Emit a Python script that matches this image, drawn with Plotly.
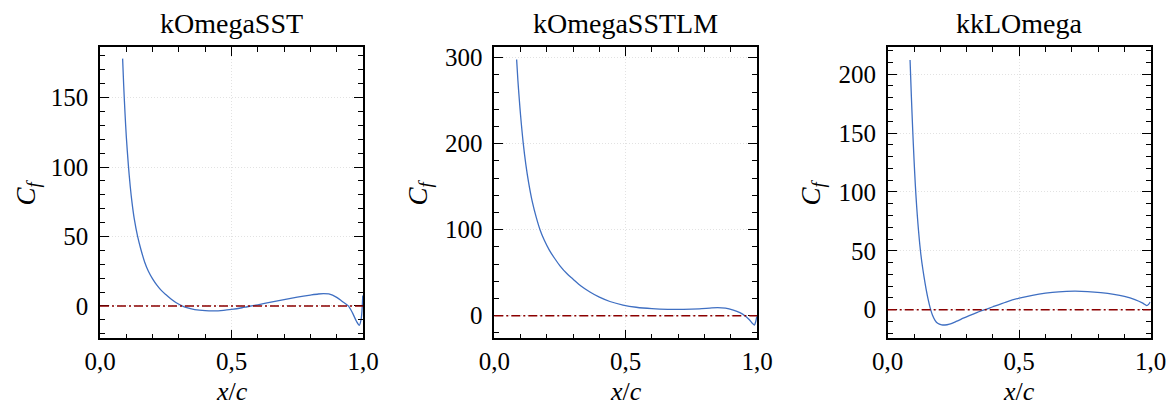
import plotly.graph_objects as go

# ---------------- data ----------------
titles = ["kOmegaSST", "kOmegaSSTLM", "kkLOmega"]

x_sst = [0.086, 0.090, 0.095, 0.100, 0.108, 0.115, 0.122, 0.130, 0.143, 0.155, 0.170, 0.184,
         0.200, 0.217, 0.234, 0.250, 0.270, 0.290, 0.310, 0.330, 0.360, 0.400, 0.430, 0.470,
         0.500, 0.540, 0.560, 0.600, 0.650, 0.700, 0.750, 0.800, 0.830, 0.850, 0.870, 0.900,
         0.920, 0.944, 0.960, 0.975, 0.986, 0.993, 0.997, 0.999]
cf_sst = [178, 159, 139, 122, 101, 86, 74, 63, 50, 41, 31.5, 25,
          19.5, 14.8, 11.0, 8.2, 5.0, 2.3, 0.2, -1.3, -2.6, -3.4, -3.6, -3.2,
          -2.5, -1.3, -0.6, 0.8, 2.7, 4.6, 6.3, 7.8, 8.6, 8.9, 8.6, 6.2,
          3.4, 0.0, -5, -11, -13.9, -9.5, -1, 7.5]

x_lm = [0.085, 0.090, 0.095, 0.100, 0.110, 0.120, 0.130, 0.145, 0.160, 0.174, 0.190, 0.210,
        0.230, 0.250, 0.276, 0.300, 0.330, 0.364, 0.400, 0.440, 0.490, 0.540, 0.600, 0.660,
        0.720, 0.780, 0.820, 0.850, 0.880, 0.910, 0.935, 0.954, 0.970, 0.983, 0.990, 0.995, 0.999]
cf_lm = [298, 273, 252, 233, 201, 176, 156, 132, 114, 100, 88, 76,
         66.5, 58, 49, 42.5, 34.5, 27.5, 21.5, 16.5, 12.4, 9.8, 8.1, 7.3,
         7.4, 8.0, 8.8, 9.3, 8.8, 6.5, 3.5, 0, -4.5, -9.0, -10.9, -7, -1]

x_kkl = [0.085, 0.090, 0.095, 0.100, 0.105, 0.110, 0.115, 0.120, 0.125, 0.130, 0.138, 0.146,
         0.154, 0.161, 0.170, 0.180, 0.190, 0.205, 0.218, 0.235, 0.260, 0.290, 0.320, 0.350,
         0.370, 0.400, 0.450, 0.500, 0.550, 0.600, 0.650, 0.710, 0.760, 0.810, 0.860, 0.900,
         0.940, 0.970, 0.985, 0.992, 0.998]
cf_kkl = [212, 181, 153, 128, 106, 88, 73, 60, 49, 40, 28, 17.5,
          8.5, 2, -4.5, -9, -11.5, -12.8, -13, -12.2, -10, -7, -4.2, -1.5,
          0, 2.5, 6.5, 9.8, 12.2, 14, 15.2, 15.7, 15.4, 14.5, 13, 11.2,
          8.5, 5.5, 3.5, 4.5, 6.5]

series_x = [x_sst, x_lm, x_kkl]
series_y = [cf_sst, cf_lm, cf_kkl]

zero_level = 0
x_tick_vals = [0.0, 0.5, 1.0]
x_tick_labels = ["0,0", "0,5", "1,0"]
y_ranges = [[-23.3, 186.6], [-26.3, 312.8], [-24.3, 223.3]]
y_major = [50, 100, 50]
y_minor = [10, 20, 10]

# ---------------- layout helpers ----------------
W, H = 1176, 410
FONT = "Liberation Serif, DejaVu Serif, serif"
x_px = [(100, 363), (494.3, 757), (887.7, 1150.7)]
y_px = (46.7, 338.3)
ylab_px = [27, 419, 812]

fig = go.Figure()
layout = dict(
    width=W, height=H,
    margin=dict(l=0, r=0, t=0, b=0),
    paper_bgcolor="white", plot_bgcolor="white",
    showlegend=False,
    font=dict(family=FONT, size=24, color="black"),
)
annotations = []
shapes = []

axis_common = dict(
    showline=True, linecolor="black", linewidth=1.6, mirror="allticks",
    ticks="inside", ticklen=9, tickwidth=1.4, tickcolor="black",
    showgrid=True, gridcolor="#e2e2e2", gridwidth=1, griddash="1px,2px",
    zeroline=False, automargin=False,
    tickfont=dict(family=FONT, size=25, color="black"),
)

for i in range(3):
    n = "" if i == 0 else str(i + 1)
    xd = [x_px[i][0] / W, x_px[i][1] / W]
    yd = [1 - y_px[1] / H, 1 - y_px[0] / H]
    layout["xaxis" + n] = dict(
        axis_common, domain=xd, range=[0, 1], anchor="y" + n,
        tickvals=x_tick_vals, ticktext=x_tick_labels, ticklabelstandoff=0,
        minor=dict(dtick=0.1, tick0=0, ticks="inside", ticklen=5, tickwidth=1.2,
                   tickcolor="black", showgrid=False),
    )
    layout["yaxis" + n] = dict(
        axis_common, domain=yd, range=y_ranges[i], anchor="x" + n,
        dtick=y_major[i], tick0=0, ticklabelstandoff=5,
        minor=dict(dtick=y_minor[i], tick0=0, ticks="inside", ticklen=5, tickwidth=1.2,
                   tickcolor="black", showgrid=False),
    )
    fig.add_trace(go.Scatter(
        x=series_x[i], y=series_y[i], mode="lines",
        line=dict(color="#3f6fc2", width=1.3, shape="spline", smoothing=0.8),
        xaxis="x" + n, yaxis="y" + n,
    ))
    shapes.append(dict(
        type="line", xref="x" + n + " domain", yref="y" + n,
        x0=0, x1=1, y0=zero_level, y1=zero_level,
        line=dict(color="#8B0000", width=1.5, dash="9px,3px,2px,3px"),
        layer="above",
    ))
    cx = (x_px[i][0] + x_px[i][1]) / 2 / W
    cy = 1 - (y_px[0] + y_px[1]) / 2 / H
    annotations.append(dict(
        text=titles[i], x=cx, y=1 - 23 / H, xref="paper", yref="paper",
        showarrow=False, xanchor="center", yanchor="middle",
        font=dict(family=FONT, size=28, color="black"),
    ))
    annotations.append(dict(
        text="<i>x</i>/<i>c</i>", x=cx, y=1 - 391 / H, xref="paper", yref="paper",
        showarrow=False, xanchor="center", yanchor="middle",
        font=dict(family=FONT, size=26, color="black"),
    ))
    annotations.append(dict(
        text="<i>C</i><sub><i>f</i></sub>", x=ylab_px[i] / W, y=cy, xref="paper", yref="paper",
        showarrow=False, xanchor="center", yanchor="middle", textangle=-90,
        font=dict(family=FONT, size=27, color="black"),
    ))

layout["annotations"] = annotations
layout["shapes"] = shapes
fig.update_layout(**layout)
fig.write_html(
    "out.html",
    config={"displayModeBar": False},
    post_script="document.body.style.margin='0';document.body.style.overflow='hidden';",
)
